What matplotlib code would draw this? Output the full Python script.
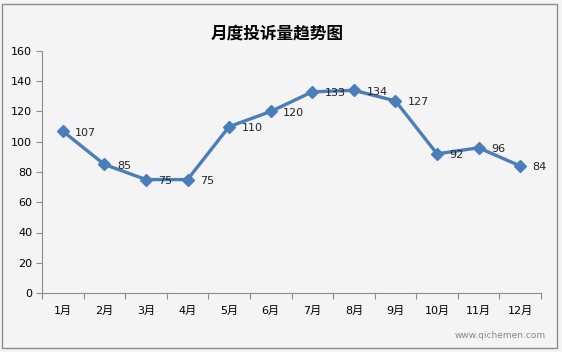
import matplotlib
matplotlib.use('Agg')
import matplotlib.pyplot as plt
from matplotlib.patches import Rectangle

plt.rcParams['font.family'] = ['DejaVu Sans', 'Noto Sans CJK SC']

# data
months = ['1月', '2月', '3月', '4月', '5月', '6月', '7月', '8月', '9月', '10月', '11月', '12月']
complaints = [107, 85, 75, 75, 110, 120, 133, 134, 127, 92, 96, 84]
title = '月度投诉量趋势图'

bg = '#f4f4f4'
fig = plt.figure(figsize=(5.62, 3.52), dpi=100, facecolor=bg)
fig.patches.append(Rectangle((2/562, 4/352), 555/562, 344/352, transform=fig.transFigure,
                             fill=False, edgecolor='#8c8c8c', linewidth=1))
ax = fig.add_axes([42/562, 1 - 293/352, 499/562, 242/352], facecolor=bg)

x = list(range(len(months)))
ax.plot(x, complaints, color='#4a7ebb', linewidth=2.4, marker='D', markersize=6.5,
        markeredgecolor='#4a7ebb')
for xi, v in zip(x, complaints):
    ax.annotate(str(v), (xi, v), xytext=(9, -1), textcoords='offset points',
                fontsize=8, va='center', ha='left', color='#222222')

ax.set_xlim(-0.5, len(months) - 0.5)
ax.set_ylim(0, 160)
ax.set_yticks(range(0, 161, 20))
ax.set_xticks([i - 0.5 for i in range(len(months) + 1)], minor=False)
ax.set_xticklabels([])
ax.set_xticks(x, minor=True)
ax.set_xticklabels(months, minor=True, fontsize=8)
ax.tick_params(axis='x', which='minor', length=0, pad=9)
ax.tick_params(axis='x', which='major', length=4, color='#8c8c8c')
ax.tick_params(axis='y', length=4, color='#8c8c8c', labelsize=8, pad=3)
for s in ['top', 'right']:
    ax.spines[s].set_visible(False)
for s in ['left', 'bottom']:
    ax.spines[s].set_color('#8c8c8c')

fig.text(277/562, 1 - 33/352, title, ha='center', va='center', fontsize=12, fontweight='bold',
         family=['Noto Sans CJK SC'])
fig.text(500/562, 1 - 336/352, 'www.qichemen.com', ha='center', va='center', fontsize=6.5, color='#888888')

fig.savefig('out.png', dpi=100, facecolor=bg)
